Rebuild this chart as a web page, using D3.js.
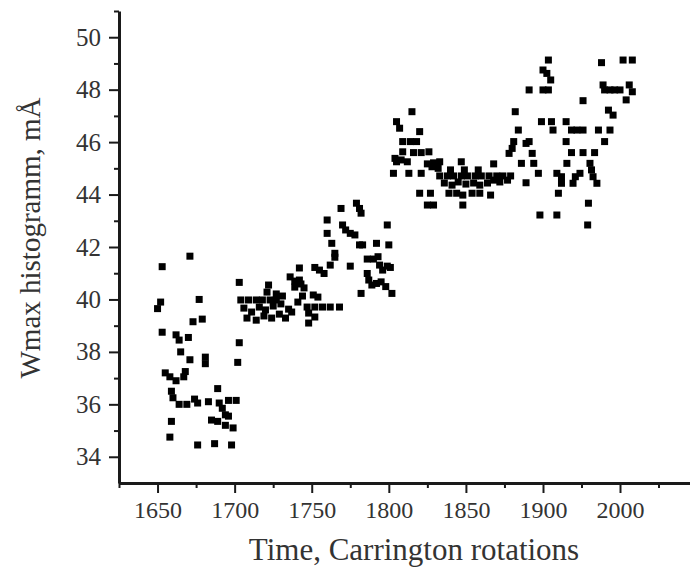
<!DOCTYPE html>
<html><head><meta charset="utf-8">
<script src="https://cdn.jsdelivr.net/npm/d3@7"></script>
<style>body{margin:0;background:#fff}</style>
</head><body>
<svg id="chart" width="690" height="570"></svg>
<script>
// Carrington rotation numbers of each point
const rotations = [
 1671,1653,1703,1652,1650,1677,1673,1679,1653,1662,1664,1670,1703,1665,1671,1681,1681,1702,1655,1658,1662,1667,1668,1689,1659,1660,1664,1669,1674,1676,1683,1690,1692,1696,1701,1694,1685,1689,1694,1696,1699,1659,1658,1676,1687,1698,
 1704,1709,1714,1718,1723,1727,1706,1711,1716,1720,1725,1730,1735,1708,1714,1719,1724,1729,1733,1737,1722,1721,1727,1731,1736,1739,1742,1743,1745,1739,1742,1751,1754,1747,1752,1757,1762,1768,1748,1752,1748,1741,1744,
 1769,1779,1781,1782,1799,1760,1770,1772,1775,1778,1760,1763,1781,1783,1792,1800,1765,1765,1786,1790,1793,1794,1799,1801,1796,1762,1752,1755,1758,1775,1786,1787,1789,1792,1795,1798,1802,1782,
 1815,1805,1807,1820,1809,1814,1818,1809,1816,1821,1826,1804,1805,1808,1812,1825,1829,1833,1847,1868,1803,1813,1821,1828,1832,1820,1827,1839,1844,1848,1854,1859,1866,1825,1829,1848,
 1833,1838,1842,1847,1851,1856,1860,1865,1870,1874,1879,1836,1841,1845,1850,1855,1859,1864,1868,1840,1849,1858,1872,1877,
 1907,1900,1905,1910,1976,2002,2008,1891,1900,1907,1978,1980,1987,1993,2000,2006,2008,2004,1952,1882,1985,1991,1899,1911,1913,1930,1884,1937,1944,1952,1972,1987,1881,1880,1878,1891,1930,1980,1893,1937,1952,1967,1886,1894,1931,1961,1897,1918,1924,1924,1942,1948,1939,1963,1965,1970,1889,1920,1959,1898,1918,1958,1889
];
// Wmax histogram value (mÅ) of each point
const wmax = [
 41.65,41.25,40.65,39.9,39.65,40.0,39.15,39.25,38.75,38.65,38.45,38.55,38.35,38.0,37.7,37.8,37.55,37.6,37.2,37.05,36.9,37.05,37.25,36.6,36.5,36.25,36.0,36.0,36.2,36.05,36.1,36.05,35.85,36.15,36.15,35.6,35.4,35.35,35.2,35.55,35.1,35.35,34.75,34.45,34.5,34.45,
 39.98,39.98,39.98,39.98,39.98,39.98,39.67,39.52,39.71,39.6,39.75,39.83,39.63,39.29,39.21,39.37,39.29,39.44,39.29,39.52,40.55,40.28,40.21,40.13,40.86,40.7,40.74,40.59,40.44,40.47,41.2,40.17,40.09,39.71,39.71,39.71,39.71,39.71,39.48,39.33,39.1,39.9,40.13,
 43.47,43.67,43.47,43.29,42.84,43.03,42.84,42.65,42.52,42.46,42.52,42.14,42.08,42.08,42.14,42.08,41.76,41.61,41.54,41.54,41.63,41.31,41.27,41.22,41.12,41.31,41.22,41.12,40.99,41.27,40.99,40.74,40.55,40.61,40.67,40.49,40.23,40.23,
 47.16,46.78,46.53,46.4,46.02,46.02,46.02,45.63,45.6,45.6,45.63,45.38,45.25,45.32,45.25,45.17,45.21,45.25,45.25,45.17,44.81,44.81,44.81,45.06,45.0,44.05,44.05,44.05,44.05,43.98,44.05,44.05,43.98,43.6,43.6,43.6,
 44.71,44.71,44.71,44.71,44.71,44.71,44.71,44.71,44.71,44.71,44.71,44.44,44.36,44.48,44.4,44.44,44.36,44.44,44.55,44.94,44.94,44.94,44.48,44.55,
 49.13,48.75,48.62,48.37,49.03,49.13,49.13,47.99,47.99,47.99,48.18,47.99,47.99,47.99,47.99,48.18,47.92,47.61,47.58,47.16,47.22,47.03,46.78,46.78,46.46,46.78,46.46,46.46,46.46,46.46,46.46,46.46,46.02,45.76,45.57,46.02,46.02,46.02,45.57,45.6,45.6,45.6,45.19,45.19,45.19,45.19,44.81,44.81,44.68,44.43,44.68,44.81,44.43,44.94,44.68,44.43,44.45,44.05,43.67,43.22,43.22,42.84,45.95
];
const xTickValues = [1650, 1700, 1750, 1800, 1850, 1900, 2000];
const xMinorTicks = [1625, 1675, 1725, 1775, 1825, 1875, 1950, 2025];
const yTickValues = [34, 36, 38, 40, 42, 44, 46, 48, 50];
const yMinorTicks = [35, 37, 39, 41, 43, 45, 47, 49, 51];
const xTitle = "Time, Carrington rotations";
const yTitle = "Wmax histogramm, mÅ";

const svg = d3.select("#chart");
const font = "'Liberation Serif', 'Times New Roman', serif";
const ink = "#1a1a1a";

const x = d3.scaleLinear().domain([1625, 1900, 2000, 2050]).range([119, 543, 620, 697]);
const y = d3.scaleLinear().domain([33, 51]).range([483, 11]);

// points
svg.append("g").selectAll("rect")
  .data(rotations.map((r, i) => ({r, w: wmax[i]})))
  .join("rect")
  .attr("x", d => x(d.r) - 3.5)
  .attr("y", d => y(d.w) - 3.5)
  .attr("width", 7).attr("height", 7)
  .attr("fill", "#000");

// x axis
const gx = svg.append("g").attr("transform", "translate(0,483)");
gx.call(d3.axisBottom(x).tickValues(xTickValues).tickSize(10).tickSizeOuter(0).tickPadding(8).tickFormat(d3.format("d")));
gx.append("g").call(d3.axisBottom(x).tickValues(xMinorTicks).tickSize(5).tickFormat(""))
  .call(g => g.select(".domain").remove());
gx.selectAll(".domain").attr("stroke", ink).attr("stroke-width", 3);
gx.selectAll(".tick line").attr("stroke", ink).attr("stroke-width", 2);
gx.selectAll(".tick text").attr("font-family", font).attr("font-size", 24).attr("fill", "#333");

// y axis
const gy = svg.append("g").attr("transform", "translate(119,0)");
gy.call(d3.axisLeft(y).tickValues(yTickValues).tickSize(10).tickSizeOuter(0).tickPadding(8));
gy.append("g").call(d3.axisLeft(y).tickValues(yMinorTicks).tickSize(5).tickFormat(""))
  .call(g => g.select(".domain").remove());
gy.selectAll(".domain").attr("stroke", ink).attr("stroke-width", 3);
gy.selectAll(".tick line").attr("stroke", ink).attr("stroke-width", 2);
gy.selectAll(".tick text").attr("font-family", font).attr("font-size", 25).attr("fill", "#333");

// titles
svg.append("text").attr("x", 414).attr("y", 560).attr("text-anchor", "middle")
  .attr("font-family", font).attr("font-size", 31).attr("fill", "#333").text(xTitle);
svg.append("text").attr("transform", "translate(40,238) rotate(-90)").attr("text-anchor", "middle")
  .attr("font-family", font).attr("font-size", 29).attr("fill", "#333").text(yTitle);
</script>
</body></html>
